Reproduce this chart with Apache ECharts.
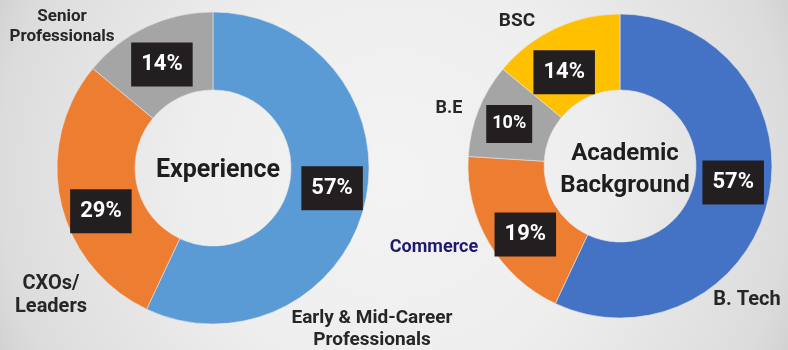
<!DOCTYPE html>
<html>
<head>
<meta charset="utf-8">
<script src="https://cdn.jsdelivr.net/npm/echarts@6/dist/echarts.min.js"></script>
<style>
html,body{margin:0;padding:0;}
#chart{width:788px;height:350px;}
</style>
</head>
<body>
<div id="chart"></div>
<script>
// ---- data ----
const expCategories = ['Early & Mid-Career\nProfessionals', 'CXOs/\nLeaders', 'Senior\nProfessionals'];
const expValues = [57, 29, 14];
const acadCategories = ['B. Tech', 'Commerce', 'B.E', 'BSC'];
const acadValues = [57, 19, 10, 14];
const expTitle = 'Experience';
const acadTitle = 'Academic\nBackground';

// ---- styles ----
const FONT = 'Roboto';
const expColors = ['#5b9bd5', '#ed7d31', '#a5a5a5'];
const acadColors = ['#4472c4', '#ed7d31', '#a5a5a5', '#ffc000'];
const expNamePos = [[372, 329], [51, 295], [62, 27]];
const expNameSize = [19, 20, 17];
const acadNamePos = [[747, 300], [434, 247], [449, 108], [517, 21]];
const acadNameSize = [20, 18, 18, 19];
const acadNameColor = ['#262626', '#1f1a6b', '#262626', '#262626'];
const expPctShift = [[2, -6], [5, 17], [0, 5]];
const acadPctShift = [[-1, -9], [6, 9], [-2, 1], [-6, 12]];
const expCenter = [213, 168], expRadius = [78, 156];
const acadCenter = [620, 166], acadRadius = [76, 152];

function pctLabel(small) {
  return {
    show: true, position: 'inside', formatter: '{c}%',
    color: '#ffffff', fontFamily: FONT, fontWeight: 'bold',
    fontSize: small ? 18 : 22, lineHeight: small ? 18 : 22,
    backgroundColor: '#231f20',
    padding: small ? [10, 6] : [11, 10]
  };
}

const chart = echarts.init(document.getElementById('chart'), null, {renderer: 'canvas'});
chart.setOption({
  backgroundColor: {
    type: 'radial', x: 0.5, y: 0.5, r: 1.3,
    colorStops: [{offset: 0, color: '#f3f3f3'}, {offset: 0.45, color: '#eeeeee'},
                 {offset: 0.87, color: '#dcdcdc'}, {offset: 1, color: '#cbcbcb'}]
  },
  animation: false,
  title: [
    {text: expTitle, left: expCenter[0], top: expCenter[1] - 15, textAlign: 'center',
     textStyle: {fontFamily: FONT, fontWeight: 'bold', fontSize: 25, color: '#1e1e1e'}},
    {text: acadTitle, left: acadCenter[0], top: acadCenter[1] - 33, textAlign: 'center',
     textStyle: {fontFamily: FONT, fontWeight: 'bold', fontSize: 24, lineHeight: 32, color: '#1e1e1e'}}
  ],
  series: [
    {
      type: 'pie', center: expCenter, radius: expRadius, startAngle: 90, clockwise: true,
      avoidLabelOverlap: false, silent: true,
      itemStyle: {borderColor: '#e6e6e6', borderWidth: 0.6},
      label: pctLabel(false), labelLine: {show: false},
      labelLayout: p => ({dx: expPctShift[p.dataIndex][0], dy: expPctShift[p.dataIndex][1]}),
      data: expValues.map((v, i) => ({value: v, name: expCategories[i], itemStyle: {color: expColors[i]}}))
    },
    {
      type: 'pie', center: acadCenter, radius: acadRadius, startAngle: 90, clockwise: true,
      avoidLabelOverlap: false, silent: true,
      itemStyle: {borderColor: '#e6e6e6', borderWidth: 0.6},
      label: pctLabel(false), labelLine: {show: false},
      labelLayout: p => ({dx: acadPctShift[p.dataIndex][0], dy: acadPctShift[p.dataIndex][1]}),
      data: acadValues.map((v, i) => ({value: v, name: acadCategories[i], itemStyle: {color: acadColors[i]},
        label: i === 2 ? pctLabel(true) : undefined}))
    },
    {
      type: 'pie', center: expCenter, radius: expRadius, startAngle: 90, clockwise: true,
      avoidLabelOverlap: false, silent: true, z: 1,
      itemStyle: {color: 'rgba(0,0,0,0)'},
      label: {show: true, position: 'outside', formatter: '{b}', fontFamily: FONT, fontWeight: 'bold',
              color: '#262626', align: 'center'},
      labelLine: {show: false},
      labelLayout: p => ({x: expNamePos[p.dataIndex][0], y: expNamePos[p.dataIndex][1], align: 'center', verticalAlign: 'middle'}),
      data: expValues.map((v, i) => ({value: v, name: expCategories[i],
        label: {fontSize: expNameSize[i], lineHeight: expNameSize[i] + 3}}))
    },
    {
      type: 'pie', center: acadCenter, radius: acadRadius, startAngle: 90, clockwise: true,
      avoidLabelOverlap: false, silent: true, z: 1,
      itemStyle: {color: 'rgba(0,0,0,0)'},
      label: {show: true, position: 'outside', formatter: '{b}', fontFamily: FONT, fontWeight: 'bold', align: 'center'},
      labelLine: {show: false},
      labelLayout: p => ({x: acadNamePos[p.dataIndex][0], y: acadNamePos[p.dataIndex][1], align: 'center', verticalAlign: 'middle'}),
      data: acadValues.map((v, i) => ({value: v, name: acadCategories[i],
        label: {fontSize: acadNameSize[i], color: acadNameColor[i]}}))
    }
  ]
});
</script>
</body>
</html>
